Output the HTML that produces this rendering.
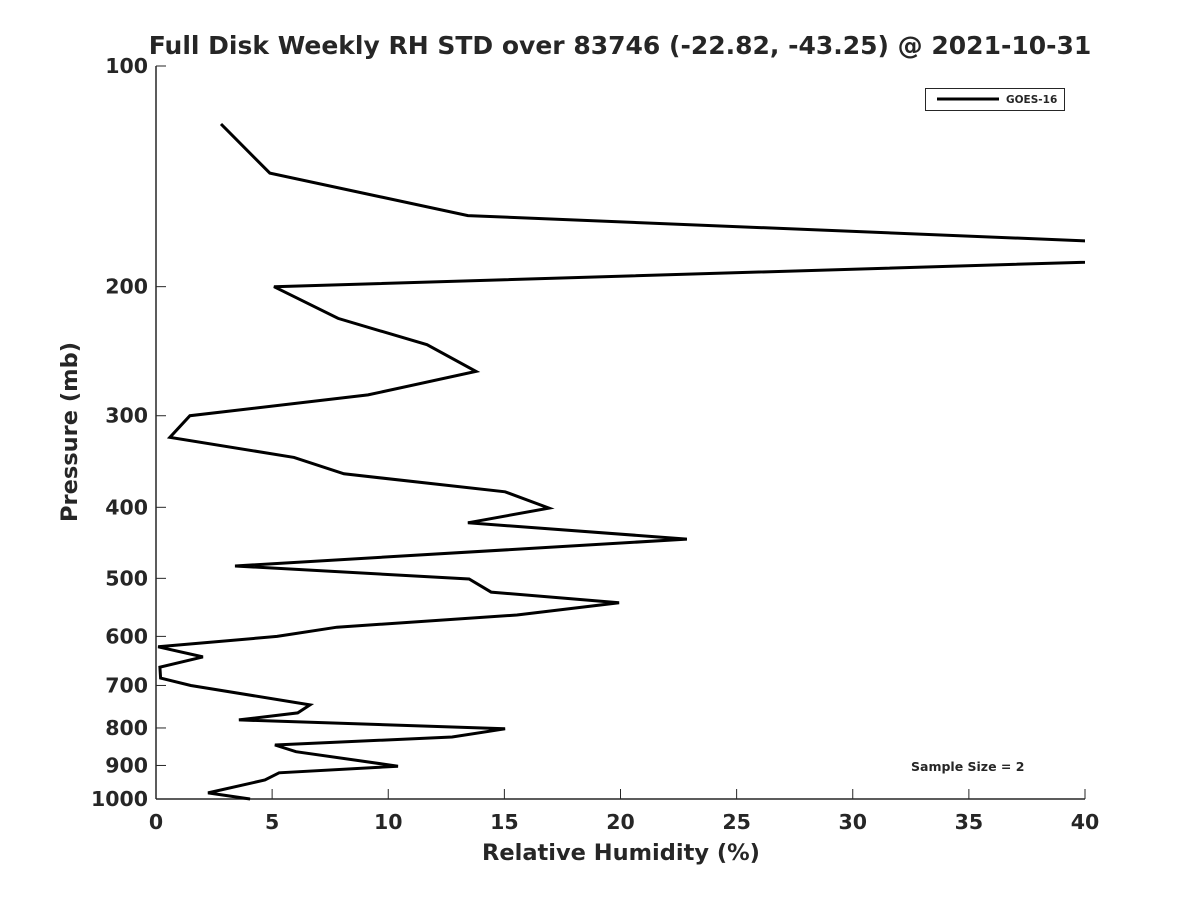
<!DOCTYPE html>
<html><head><meta charset="utf-8"><style>
body{margin:0;background:#fff}
svg text{font-family:"DejaVu Sans","Liberation Sans",sans-serif;font-weight:bold;fill:#262626}
</style></head><body>
<svg id="chart" width="1200" height="900">
<defs><clipPath id="plotclip"><rect x="156" y="60" width="929" height="745"/></clipPath></defs>
<rect width="1200" height="900" fill="#fff"/>
<text x="620" y="54" font-size="25" text-anchor="middle">Full Disk Weekly RH STD over 83746 (-22.82, -43.25) @ 2021-10-31</text>
<g id="axes"></g>
<polyline id="series" clip-path="url(#plotclip)" fill="none" stroke="#000" stroke-width="3" stroke-linejoin="miter"/>
<g>
<rect x="925.5" y="88.5" width="139" height="22" fill="#fff" stroke="#262626" stroke-width="1"/>
<line x1="937" y1="99" x2="999" y2="99" stroke="#000" stroke-width="3"/>
<text x="1006" y="103" font-size="10.5">GOES-16</text>
</g>
<text x="911" y="771" font-size="12.5">Sample Size = 2</text>
<text x="621" y="860" font-size="22.5" text-anchor="middle">Relative Humidity (%)</text>
<text transform="translate(77,432) rotate(-90)" font-size="22.5" text-anchor="middle">Pressure (mb)</text>
</svg>
<script>
const rhValues=[2.8,4.9,13.43,48,48,5.08,7.84,11.67,13.78,9.13,1.46,0.6,5.94,8.09,15.03,16.92,13.43,22.86,3.4,13.48,14.43,19.94,15.54,7.79,5.21,0.09,2.02,0.17,0.2,1.5,6.63,6.1,3.57,15.03,12.75,5.12,6.03,10.42,5.3,4.69,2.24,4.05];
const pressureLevels=[120,140,160,177.4,182,200,221,240,261,281,300,321,342,360,381,401,420,442,481,501,522,540,561,583,600,620,640,661,684,700,744,763,780,802,823,844,862,902,921,942,981,1000];
const xTicks=[0,5,10,15,20,25,30,35,40];
const yTicks=[100,200,300,400,500,600,700,800,900,1000];
const X0=156,X1=1085,Y0=66,Y1=799;
const xs=v=>X0+(v-0)/(40-0)*(X1-X0);
const ys=p=>Y0+(Math.log10(p)-2)/(3-2)*(Y1-Y0);
const NS="http://www.w3.org/2000/svg";
const ax=document.getElementById('axes');
function mk(t,a){const e=document.createElementNS(NS,t);for(const k in a)e.setAttribute(k,a[k]);ax.appendChild(e);return e;}
const yl=mk('line',{x1:X0,y1:Y0,x2:X0,y2:Y1,stroke:'#262626','stroke-width':1.5});


const xl=mk('line',{x1:X0,y1:Y1,x2:X1,y2:Y1,stroke:'#262626','stroke-width':1.5});


xTicks.forEach(v=>{
 const x=xs(v);
 mk('line',{x1:x,y1:Y1,x2:x,y2:Y1-10,stroke:'#262626','stroke-width':1});
 const t=mk('text',{x:x,y:Y1+30,'font-size':20.5,'text-anchor':'middle'});t.textContent=v;
 
 
});
yTicks.forEach(v=>{
 const y=ys(v);
 mk('line',{x1:X0,y1:y,x2:X0+10,y2:y,stroke:'#262626','stroke-width':1});
 const t=mk('text',{x:X0-8,y:y+7,'font-size':20.5,'text-anchor':'end'});t.textContent=v;
 
 
});
document.getElementById('series').setAttribute('points',rhValues.map((v,i)=>xs(v).toFixed(1)+','+ys(pressureLevels[i]).toFixed(1)).join(' '));
</script>
</body></html>
